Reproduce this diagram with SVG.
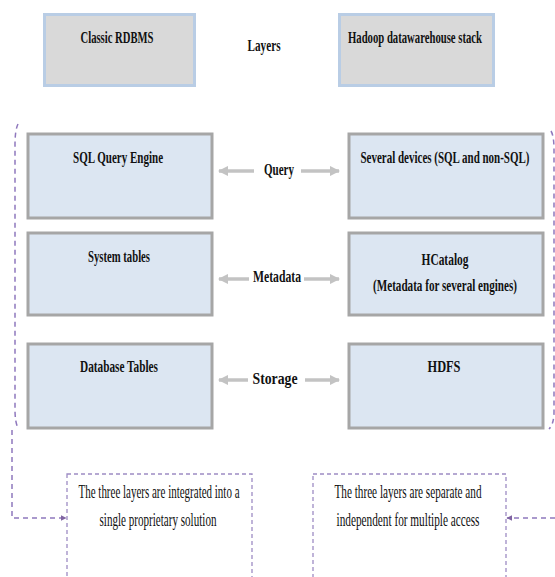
<svg xmlns="http://www.w3.org/2000/svg" width="555" height="577" viewBox="0 0 555 577">
<style>
.t{font-family:"Liberation Serif","Times New Roman",serif;font-size:17px;font-weight:bold;fill:#111;text-anchor:middle}
.n{font-family:"Liberation Serif","Times New Roman",serif;font-size:18px;fill:#111;text-anchor:middle}
.hdr{fill:#d9d9d9;stroke:#b9cde5;stroke-width:3}
.lay{fill:#dce6f2;stroke:#a6a6a6;stroke-width:3}
.note{fill:#ffffff;stroke:#9d8cc4;stroke-width:1.3;stroke-dasharray:4 3}
.arr{stroke:#c3c3c3;stroke-width:3.5;fill:none}
.dash{stroke:#8f78bd;stroke-width:1.5;fill:none;stroke-dasharray:5 4}
</style>
<defs>
<marker id="ga" viewBox="0 0 10 10" refX="9" refY="5" markerWidth="3" markerHeight="3" orient="auto" markerUnits="strokeWidth">
<path d="M0,0 L10,5 L0,10 z" fill="#c3c3c3"/>
</marker>
<marker id="pa" viewBox="0 0 10 10" refX="9" refY="5" markerWidth="6" markerHeight="6" orient="auto" markerUnits="userSpaceOnUse">
<path d="M0,0 L10,5 L0,10 z" fill="#8064a2"/>
</marker>
</defs>
<rect width="555" height="577" fill="#ffffff"/>

<g id="hdr-rdbms">
<rect class="hdr" x="44.5" y="14.5" width="150" height="71"/>
<text class="t" transform="translate(117,43) scale(0.7,1)" textLength="104.3" lengthAdjust="spacingAndGlyphs">Classic RDBMS</text>
</g>
<g id="hdr-layers">
<text class="t" transform="translate(264,51) scale(0.7,1)" textLength="47.1" lengthAdjust="spacingAndGlyphs">Layers</text>
</g>
<g id="hdr-hadoop">
<rect class="hdr" x="339.5" y="14.5" width="154" height="71"/>
<text class="t" transform="translate(415,43) scale(0.7,1)" textLength="191.4" lengthAdjust="spacingAndGlyphs">Hadoop datawarehouse stack</text>
</g>

<g id="sql-engine">
<rect class="lay" x="28" y="134" width="184" height="84"/>
<text class="t" transform="translate(118,163) scale(0.7,1)" textLength="128.6" lengthAdjust="spacingAndGlyphs">SQL Query Engine</text>
</g>
<g id="system-tables">
<rect class="lay" x="28" y="233" width="184" height="82"/>
<text class="t" transform="translate(119,262) scale(0.7,1)" textLength="88.6" lengthAdjust="spacingAndGlyphs">System tables</text>
</g>
<g id="database-tables">
<rect class="lay" x="28" y="344" width="184" height="84"/>
<text class="t" transform="translate(119,372) scale(0.7,1)" textLength="111.4" lengthAdjust="spacingAndGlyphs">Database Tables</text>
</g>

<g id="several-devices">
<rect class="lay" x="349" y="134" width="194" height="84"/>
<text class="t" transform="translate(445,163) scale(0.7,1)" textLength="241.4" lengthAdjust="spacingAndGlyphs">Several devices (SQL and non-SQL)</text>
</g>
<g id="hcatalog">
<rect class="lay" x="349" y="233" width="194" height="82"/>
<text class="t" transform="translate(445,265) scale(0.7,1)" textLength="67.1" lengthAdjust="spacingAndGlyphs">HCatalog</text>
<text class="t" transform="translate(445,291) scale(0.7,1)" textLength="205.7" lengthAdjust="spacingAndGlyphs">(Metadata for several engines)</text>
</g>
<g id="hdfs">
<rect class="lay" x="349" y="344" width="194" height="84"/>
<text class="t" transform="translate(444,372) scale(0.7,1)" textLength="47.1" lengthAdjust="spacingAndGlyphs">HDFS</text>
</g>

<g id="lbl-query"><text class="t" transform="translate(279,175) scale(0.7,1)" textLength="42.9" lengthAdjust="spacingAndGlyphs">Query</text></g>
<g id="lbl-metadata"><text class="t" transform="translate(277,282) scale(0.7,1)" textLength="68.6" lengthAdjust="spacingAndGlyphs">Metadata</text></g>
<g id="lbl-storage"><text class="t" transform="translate(275,384) scale(0.7,1)" textLength="64.3" lengthAdjust="spacingAndGlyphs">Storage</text></g>

<g id="note-left">
<rect class="note" x="67" y="474" width="185" height="104"/>
<text class="n" transform="translate(159,498) scale(0.7,1)" textLength="230" lengthAdjust="spacingAndGlyphs">The three layers are integrated into a</text>
<text class="n" transform="translate(158,526) scale(0.7,1)" textLength="167.1" lengthAdjust="spacingAndGlyphs">single proprietary solution</text>
</g>
<g id="note-right">
<rect class="note" x="313" y="474" width="193" height="104"/>
<text class="n" transform="translate(408,498) scale(0.7,1)" textLength="210" lengthAdjust="spacingAndGlyphs">The three layers are separate and</text>
<text class="n" transform="translate(408,526) scale(0.7,1)" textLength="204.3" lengthAdjust="spacingAndGlyphs">independent for multiple access</text>
</g>

<g id="connectors">
<path class="arr" d="M254,171 L219,171" marker-end="url(#ga)"/>
<path class="arr" d="M301,171 L339,171" marker-end="url(#ga)"/>
<path class="arr" d="M249,279 L219,279" marker-end="url(#ga)"/>
<path class="arr" d="M304,279 L339,279" marker-end="url(#ga)"/>
<path class="arr" d="M248,380 L219,380" marker-end="url(#ga)"/>
<path class="arr" d="M305,380 L339,380" marker-end="url(#ga)"/>
<path class="dash" d="M18,124 Q15,130 15,145 L15,410 Q15,422 18,428"/>
<path class="dash" d="M551,131 Q554,136 554,150 L554,412 Q554,424 549,429"/>
<path class="dash" d="M12,430 L12,518 L66,518" marker-end="url(#pa)"/>
<path class="dash" d="M555,518 L507,518" marker-end="url(#pa)"/>
</g>
</svg>
